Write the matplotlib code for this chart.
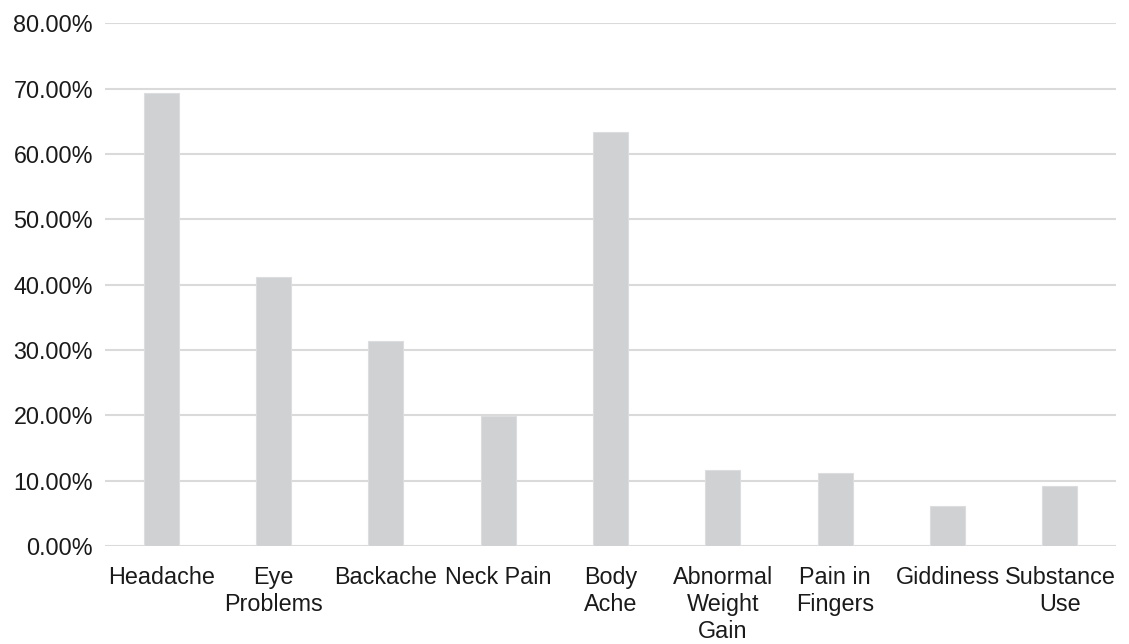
import matplotlib
matplotlib.use("Agg")
import matplotlib.pyplot as plt
from matplotlib.ticker import FuncFormatter, MultipleLocator

categories = ["Headache", "Eye\nProblems", "Backache", "Neck Pain", "Body\nAche",
              "Abnormal\nWeight\nGain", "Pain in\nFingers", "Giddiness", "Substance\nUse"]
values = [69.4, 41.1, 31.3, 19.9, 63.4, 11.6, 11.1, 6.1, 9.2]

plt.rcParams['font.family'] = ['Liberation Sans', 'DejaVu Sans']

fig = plt.figure(figsize=(11.29, 6.44), dpi=100)
ax = fig.add_axes([0.093, 0.1522, 0.8955, 0.8116])

x = list(range(len(categories)))
ax.bar(x, values, width=0.31, color='#D0D1D3', edgecolor='#DCDDDF', linewidth=0.8, zorder=3)

ax.set_xlim(-0.5, len(categories) - 0.5)
ax.set_ylim(0, 80)
ax.yaxis.set_major_locator(MultipleLocator(10))
ax.yaxis.set_major_formatter(FuncFormatter(lambda v, p: f"{v:.2f}%"))
ax.grid(axis='y', color='#DADADA', linewidth=1.5, zorder=0)
ax.set_axisbelow(True)
for s in ax.spines.values():
    s.set_visible(False)

ax.set_xticks(x)
ax.set_xticklabels(categories, fontsize=16.8, color='#1a1a1a', linespacing=1.22)
ax.tick_params(axis='x', length=0, pad=14.5)
ax.tick_params(axis='y', length=0, pad=8.6, labelsize=16.8, labelcolor='#1a1a1a')

fig.savefig("out.png", dpi=100)
